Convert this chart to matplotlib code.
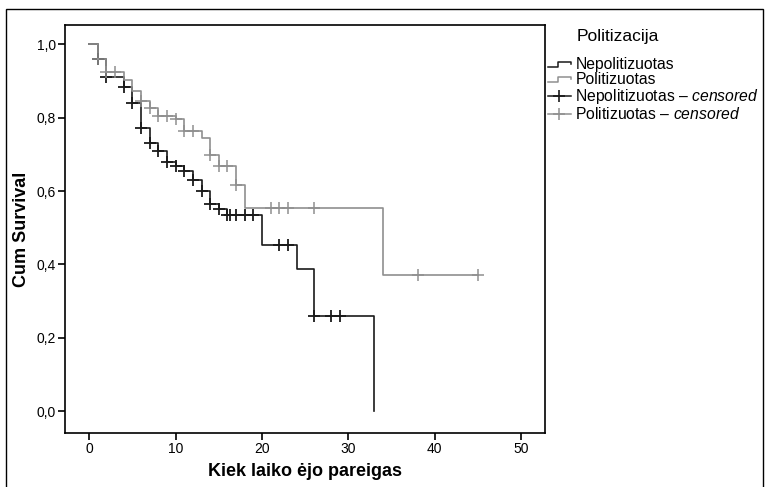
import numpy as np
import matplotlib
matplotlib.use("Agg")
import matplotlib.pyplot as plt
from matplotlib.lines import Line2D
from matplotlib.legend_handler import HandlerBase
from matplotlib.patches import Rectangle

plt.rcParams['font.family'] = ['Liberation Sans', 'DejaVu Sans']
plt.rcParams['mathtext.fontset'] = 'custom'
plt.rcParams['mathtext.rm'] = 'Liberation Sans'
plt.rcParams['mathtext.it'] = 'Liberation Sans:italic'

# Kaplan-Meier steps
nepol_t = [0, 1, 2, 4, 5, 6, 7, 8, 9, 10, 11, 12, 13, 14, 15, 16, 20, 24, 26, 33]
nepol_s = [1.0, 0.96, 0.911, 0.884, 0.84, 0.772, 0.731, 0.708, 0.678, 0.667,
           0.656, 0.63, 0.60, 0.566, 0.55, 0.534, 0.452, 0.387, 0.258, 0.0]
nepol_cens = [1, 2, 4, 5, 6, 7, 8, 9, 10, 11, 12, 13, 14, 15, 16, 16.3, 17, 18, 19,
              22, 23, 26, 28, 29]

pol_t = [0, 1, 2, 4, 5, 6, 7, 8, 10, 11, 13, 14, 15, 17, 18, 34, 45]
pol_s = [1.0, 0.959, 0.925, 0.902, 0.874, 0.847, 0.826, 0.805, 0.796, 0.763,
         0.746, 0.699, 0.667, 0.616, 0.555, 0.372, 0.372]
pol_cens = [1, 2, 3, 6, 7, 8, 9, 10, 11, 12, 14, 15, 16, 17, 21, 22, 23, 26, 38, 45]

x_ticks = [0, 10, 20, 30, 40, 50]
y_ticks = [0.0, 0.2, 0.4, 0.6, 0.8, 1.0]

dark = '#1a1a1a'
grey = '#8f8f8f'


def cens_y(t_steps, s_steps, cens):
    idx = np.searchsorted(t_steps, cens, side='right') - 1
    return np.array(s_steps)[idx]


class StepHandler(HandlerBase):
    def create_artists(self, legend, orig_handle, xdescent, ydescent,
                       width, height, fontsize, trans):
        xs = np.array([0.0, 0.42, 0.42, 1.0, 1.0]) * width - xdescent
        ys = np.array([0.2, 0.2, 0.68, 0.68, 0.45]) * height - ydescent
        ln = Line2D(xs, ys, color=orig_handle.get_color(), lw=1.1)
        ln.set_transform(trans)
        return [ln]


fig = plt.figure(figsize=(7.68, 4.87), dpi=100)
ax = fig.add_axes([65/768, 1-433/487, 480/768, 408/487])

l1, = ax.step(nepol_t, nepol_s, where='post', color=dark, lw=1.2)
l2, = ax.step(pol_t, pol_s, where='post', color=grey, lw=1.2)
ax.plot(nepol_cens, cens_y(nepol_t, nepol_s, nepol_cens), ls='none', marker='+',
        ms=8, mew=1.3, color=dark)
ax.plot(pol_cens, cens_y(pol_t, pol_s, pol_cens), ls='none', marker='+',
        ms=8, mew=1.1, color=grey)

ax.set_xlim(-2.8, 52.75)
ax.set_ylim(-0.06, 1.053)
ax.set_xticks(x_ticks)
ax.set_yticks(y_ticks)
ax.set_yticklabels([f"{v:.1f}".replace('.', ',') for v in y_ticks])
ax.tick_params(direction='out', length=5, width=1.2, labelsize=10, colors='black',
               pad=1.5)
for sp in ax.spines.values():
    sp.set_linewidth(1.2)

ax.set_xlabel("Kiek laiko ėjo pareigas", fontsize=13, fontweight='bold', labelpad=5)
ax.set_ylabel("Cum Survival", fontsize=13, fontweight='bold', labelpad=4.5)

h3 = Line2D([], [], color=dark, marker='+', ms=9, mew=1.2, lw=1.1)
h4 = Line2D([], [], color=grey, marker='+', ms=9, mew=1.1, lw=1.1)
fig.text(577/768, 1-37/487, "Politizacija", fontsize=12.5, va='center', ha='left')
fig.legend([l1, l2, h3, h4],
           ["Nepolitizuotas", "Politizuotas",
            "Nepolitizuotas – $\\mathit{censored}$", "Politizuotas – $\\mathit{censored}$"],
           handler_map={l1: StepHandler(), l2: StepHandler()},
           loc='upper left', bbox_to_anchor=(548/768, 1-57/487), frameon=False,
           fontsize=11.3, handlelength=1.45, handletextpad=0.3, labelspacing=0.0,
           borderpad=0, borderaxespad=0)

fig.patches.append(Rectangle((6/768, -0.01), 757/768, 1-9/487+0.01,
                             transform=fig.transFigure, fill=False,
                             edgecolor='black', lw=1.0))

fig.savefig("out.png", dpi=100)
